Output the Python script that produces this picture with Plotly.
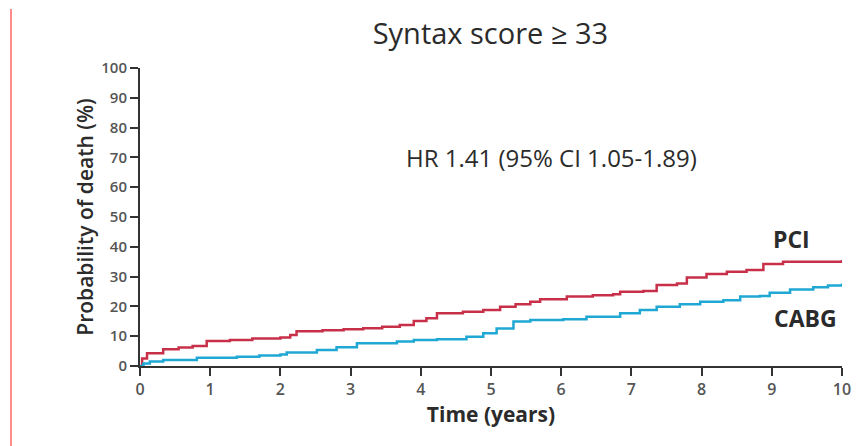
import plotly.graph_objects as go

# Kaplan-Meier style cumulative probability of death (%)
pci_t = [0, 0.03, 0.1, 0.33, 0.55, 0.75, 0.95, 1.28, 1.6, 2.0, 2.14, 2.23, 2.6, 2.9, 3.18, 3.45, 3.7, 3.9, 4.08, 4.23, 4.6, 4.89,
         5.13, 5.35, 5.56, 5.7, 6.08, 6.45, 6.74, 6.84, 7.17, 7.36, 7.65, 7.79, 8.07, 8.36, 8.64, 8.88, 9.16, 9.97, 10.0]
pci_y = [0, 2.5, 4.3, 5.6, 6.2, 6.7, 8.4, 8.7, 9.2, 9.6, 10.4, 11.7, 12.0, 12.3, 12.7, 13.2, 13.8, 15.1, 16.0, 17.7, 18.2, 18.8,
         19.9, 20.7, 21.6, 22.4, 23.3, 23.7, 24.1, 24.9, 25.2, 27.2, 27.7, 29.7, 30.9, 31.6, 32.2, 34.2, 35.0, 35.0, 35.6]

cabg_t = [0, 0.05, 0.14, 0.33, 0.81, 1.38, 1.7, 2.0, 2.09, 2.52, 2.8, 3.09, 3.66, 3.9, 4.23, 4.65, 4.89,
          5.08, 5.32, 5.56, 6.03, 6.36, 6.84, 7.12, 7.36, 7.69, 7.98, 8.31, 8.55, 8.83, 8.97, 9.26, 9.59, 9.8, 10.0]
cabg_y = [0, 0.8, 1.5, 2.0, 2.8, 3.1, 3.5, 3.9, 4.5, 5.4, 6.3, 7.6, 8.2, 8.7, 9.0, 9.8, 11.0,
          12.6, 14.9, 15.4, 15.7, 16.5, 17.7, 18.8, 19.9, 20.7, 21.6, 22.1, 23.3, 23.5, 24.6, 25.7, 26.4, 27.0, 27.7]

x_ticks = list(range(0, 11))
y_ticks = list(range(0, 101, 10))

title_text = "Syntax score ≥ 33"
hr_text = "HR 1.41 (95% CI 1.05-1.89)"

FONT = "Open Sans"
TXT = "#2b2b2b"

fig = go.Figure()
fig.add_trace(go.Scatter(x=pci_t, y=pci_y, mode="lines", line=dict(color="#c8304a", width=2.5, shape="hv"),
                         name="PCI", showlegend=False))
fig.add_trace(go.Scatter(x=cabg_t, y=cabg_y, mode="lines", line=dict(color="#1fa8d4", width=2.5, shape="hv"),
                         name="CABG", showlegend=False))

fig.update_layout(
    width=868, height=446,
    margin=dict(l=140, r=26, t=68, b=80),
    paper_bgcolor="white", plot_bgcolor="white",
    font=dict(family=FONT, color=TXT),
    title=dict(text=title_text, x=0.565, xanchor="center", y=0.925, yanchor="middle",
               font=dict(size=29, color=TXT, family=FONT)),
    xaxis=dict(range=[0, 10], tickvals=x_ticks, ticks="outside", ticklen=8, tickwidth=2, tickcolor="#333",
               showline=True, linecolor="#333", linewidth=2, showgrid=False, zeroline=False,
               tickfont=dict(size=16, color="#555", family=FONT, weight=600),
               title=dict(text="Time (years)", font=dict(size=21, color=TXT, weight=700), standoff=4)),
    yaxis=dict(range=[0, 100], tickvals=y_ticks, ticks="outside", ticklen=8, tickwidth=2, tickcolor="#333",
               showline=True, linecolor="#333", linewidth=2, showgrid=False, zeroline=False,
               tickfont=dict(size=15, color="#555", family=FONT, weight=600),
               title=dict(text="Probability of death (%)", font=dict(size=21, color=TXT, weight=600), standoff=2)),
)

fig.add_annotation(x=0.586, y=0.70, xref="paper", yref="paper", text=hr_text, showarrow=False,
                   font=dict(size=24, color=TXT, family=FONT, weight=500), xanchor="center", yanchor="middle")
fig.add_annotation(x=9.28, y=42.5, xref="x", yref="y", text="PCI", showarrow=False,
                   font=dict(size=23, color=TXT, family=FONT, weight=700), xanchor="center", yanchor="middle")
fig.add_annotation(x=9.48, y=16.0, xref="x", yref="y", text="CABG", showarrow=False,
                   font=dict(size=23, color=TXT, family=FONT, weight=700), xanchor="center", yanchor="middle")

# pink vertical rule at the left edge of the image
fig.add_shape(type="line", xref="paper", yref="paper", x0=-0.1838, x1=-0.1838, y0=1.198, y1=-0.27,
              line=dict(color="#ff8a8a", width=2))

fig.write_html("out.html")
